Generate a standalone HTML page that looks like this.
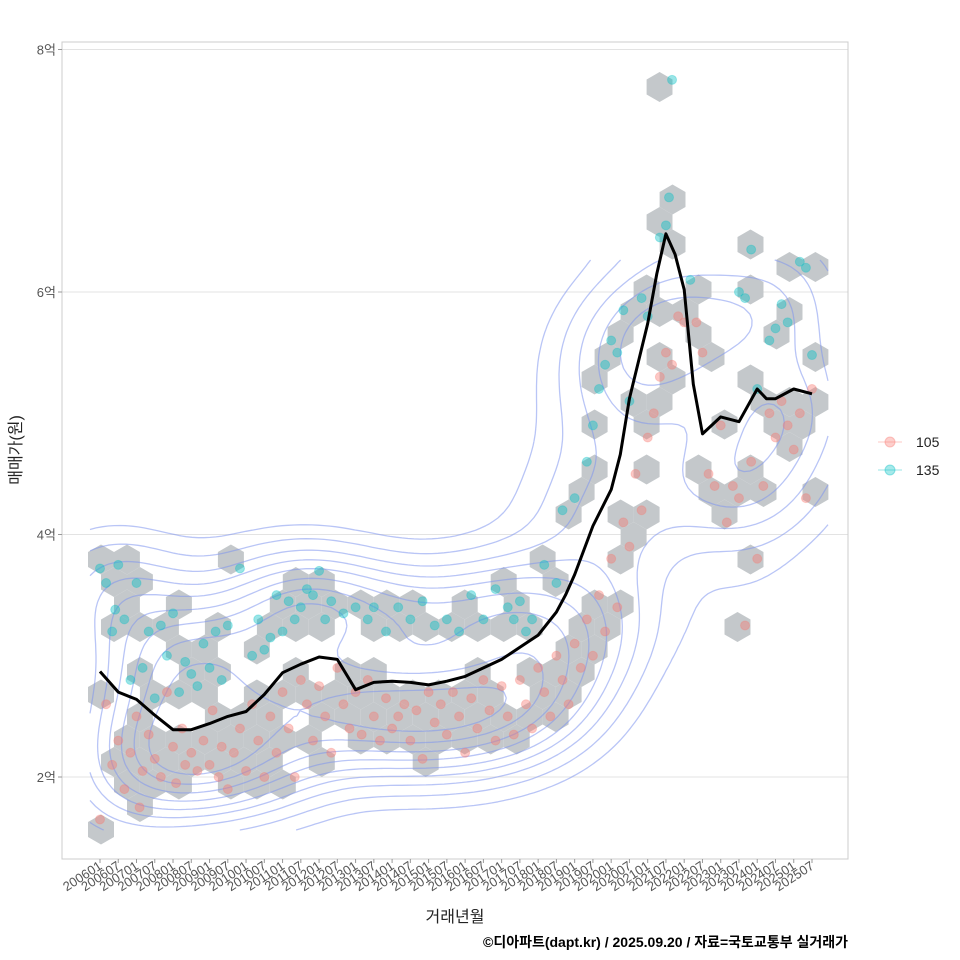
<!DOCTYPE html>
<html><head><meta charset="utf-8">
<style>
body{margin:0;background:#fff;}
svg{display:block;font-family:"Liberation Sans","Noto Sans CJK KR",sans-serif;}
</style></head>
<body>
<svg id="chart" width="960" height="960" viewBox="0 0 960 960">
<rect x="0" y="0" width="960" height="960" fill="#fff"/>
<g id="grid"></g>
<g id="hex"></g>
<g id="contour"></g>
<g id="pts"></g>
<g id="line"></g>
<rect x="62" y="42" width="786" height="817" fill="none" stroke="#cccccc" stroke-width="1"/>
<g id="axes"></g>
<text x="21" y="450" transform="rotate(-90 21 450)" text-anchor="middle" font-size="16" fill="#222">매매가(원)</text>
<text x="455" y="922" text-anchor="middle" font-size="16" fill="#222">거래년월</text>
<text x="848" y="947" text-anchor="end" font-size="14" font-weight="bold" fill="#000">©디아파트(dapt.kr) / 2025.09.20 / 자료=국토교통부 실거래가</text>
<g>
  <g>
    <line x1="878" y1="442" x2="902" y2="442" stroke="#F8766D" stroke-opacity="0.4" stroke-width="1"/>
    <circle cx="890" cy="442" r="5" fill="#F8766D" fill-opacity="0.35" stroke="#F8766D" stroke-opacity="0.4"/>
    <text x="916" y="447" font-size="14" fill="#222">105</text>
  </g>
  <g>
    <line x1="878" y1="470" x2="902" y2="470" stroke="#00BFC4" stroke-opacity="0.4" stroke-width="1"/>
    <circle cx="890" cy="470" r="5" fill="#00BFC4" fill-opacity="0.35" stroke="#00BFC4" stroke-opacity="0.4"/>
    <text x="916" y="475" font-size="14" fill="#222">135</text>
  </g>
</g>
</svg>
<script>
// ---- data (month index from 2006-01, price in 억) ----
const yTicks = [2, 4, 6, 8];
const yTickLabels = ["2억", "4억", "6억", "8억"];
const xTickLabels = ["200601","200607","200701","200707","200801","200807","200901","200907","201001","201007","201101","201107","201201","201207","201301","201307","201401","201407","201501","201507","201601","201607","201701","201707","201801","201807","201901","201907","202001","202007","202101","202107","202201","202207","202301","202307","202401","202407","202501","202507"];
const trendMonths = [0,6,12,18,24,30,36,42,48,54,60,66,72,78,84,90,96,102,108,114,120,126,132,138,144,150,153,156,162,168,171,174,180,183,186,189,192,195,198,204,210,216,219,222,228,234];
const trendValues = [2.87,2.70,2.64,2.51,2.39,2.39,2.44,2.50,2.54,2.68,2.86,2.93,2.99,2.97,2.72,2.78,2.79,2.78,2.76,2.79,2.83,2.90,2.97,3.07,3.17,3.36,3.50,3.67,4.07,4.37,4.66,5.12,5.74,6.15,6.48,6.31,6.02,5.24,4.83,4.97,4.93,5.20,5.12,5.12,5.20,5.16];
const pts105 = [[0,1.65],[2,2.6],[4,2.1],[6,2.3],[8,1.9],[10,2.2],[12,2.5],[13,1.75],[14,2.05],[16,2.35],[18,2.15],[20,2.0],[22,2.7],[24,2.25],[25,1.95],[27,2.4],[28,2.1],[30,2.2],[32,2.05],[34,2.3],[36,2.1],[37,2.55],[39,2.0],[40,2.25],[42,1.9],[44,2.2],[46,2.4],[48,2.05],[50,2.6],[52,2.3],[54,2.0],[56,2.5],[58,2.2],[60,2.7],[62,2.4],[64,2.0],[66,2.8],[68,2.6],[70,2.3],[72,2.75],[74,2.5],[76,2.2],[78,2.9],[80,2.6],[82,2.4],[84,2.7],[86,2.35],[88,2.8],[90,2.5],[92,2.3],[94,2.65],[96,2.4],[98,2.5],[100,2.6],[102,2.3],[104,2.55],[106,2.15],[108,2.7],[110,2.45],[112,2.6],[114,2.35],[116,2.7],[118,2.5],[120,2.2],[122,2.65],[124,2.4],[126,2.8],[128,2.55],[130,2.3],[132,2.75],[134,2.5],[136,2.35],[138,2.8],[140,2.6],[142,2.4],[144,2.9],[146,2.7],[148,2.5],[150,3.0],[152,2.8],[154,2.6],[156,3.1],[158,2.9],[160,3.3],[162,3.0],[164,3.5],[166,3.2],[168,3.8],[170,3.4],[172,4.1],[174,3.9],[176,4.5],[178,4.2],[180,4.8],[182,5.0],[184,5.3],[186,5.5],[188,5.4],[190,5.8],[192,5.75],[196,5.75],[198,5.5],[200,4.5],[202,4.4],[204,4.9],[206,4.1],[208,4.4],[210,4.3],[212,3.25],[214,4.6],[216,3.8],[218,4.4],[220,5.0],[222,4.8],[224,5.1],[226,4.9],[228,4.7],[230,5.0],[232,4.3],[234,5.2]];
const pts135 = [[0,3.72],[2,3.6],[4,3.2],[5,3.38],[6,3.75],[8,3.3],[10,2.8],[12,3.6],[14,2.9],[16,3.2],[18,2.65],[20,3.25],[22,3.0],[24,3.35],[26,2.7],[28,2.95],[30,2.85],[32,2.75],[34,3.1],[36,2.9],[38,3.2],[40,2.8],[42,3.25],[46,3.72],[50,3.0],[52,3.3],[54,3.05],[56,3.15],[58,3.5],[60,3.2],[62,3.45],[64,3.3],[66,3.4],[68,3.55],[70,3.5],[72,3.7],[74,3.3],[76,3.45],[80,3.35],[84,3.4],[88,3.3],[90,3.4],[94,3.2],[98,3.4],[102,3.3],[106,3.45],[110,3.25],[114,3.3],[118,3.2],[122,3.5],[126,3.3],[130,3.55],[134,3.4],[136,3.3],[138,3.45],[140,3.2],[142,3.3],[146,3.75],[150,3.6],[152,4.2],[156,4.3],[160,4.6],[162,4.9],[164,5.2],[166,5.4],[168,5.6],[170,5.5],[172,5.85],[174,5.1],[178,5.95],[180,5.8],[184,6.45],[186,6.55],[187,6.78],[188,7.75],[194,6.1],[210,6.0],[212,5.95],[214,6.35],[216,5.2],[220,5.6],[222,5.7],[224,5.9],[226,5.75],[230,6.25],[232,6.2],[234,5.48]];

// ---- scales ----
const NS = "http://www.w3.org/2000/svg";
function xs(m){ return 100 + m * (712/234); }
function ys(v){ return 777 - (v - 2) * 121.25; }
function mk(tag, attrs, parent){
  const e = document.createElementNS(NS, tag);
  for (const k in attrs) e.setAttribute(k, attrs[k]);
  parent.appendChild(e);
  return e;
}
const gGrid = document.getElementById('grid'), gAxes = document.getElementById('axes');
const gHex = document.getElementById('hex'), gCon = document.getElementById('contour');
const gPts = document.getElementById('pts'), gLine = document.getElementById('line');

yTicks.forEach((v,i)=>{
  const l = mk('line',{x1:62,x2:848,y1:ys(v),y2:ys(v),stroke:'#e3e3e3','stroke-width':1},gGrid);
  
  
  const t = mk('line',{x1:58,x2:62,y1:ys(v),y2:ys(v),stroke:'#999'},gAxes);
  
  
  const tx = mk('text',{x:56,y:ys(v)+5,'text-anchor':'end','font-size':13,fill:'#555'},gAxes);
  tx.textContent = yTickLabels[i];
  
  
});
xTickLabels.forEach((lab,i)=>{
  const x = xs(i*6);
  const t = mk('line',{x1:x,x2:x,y1:859,y2:863,stroke:'#999'},gAxes);
  
  
  const tx = mk('text',{x:x+3,y:868,'text-anchor':'end','font-size':13,fill:'#555',transform:`rotate(-33 ${x+3} 868)`},gAxes);
  tx.textContent = lab;
  
  
});

// hexbin
const all = pts105.concat(pts135).map(p=>[xs(p[0]), ys(p[1])]);
const R = 15, W = Math.sqrt(3)*R;
const bins = {};
all.forEach(([px,py])=>{
  const qx = (Math.sqrt(3)/3*(px-62) - (py-42)/3)/R, r = (2/3*(py-42))/R;
  let xq = qx, zq = r, yq = -xq-zq;
  let rx = Math.round(xq), ry = Math.round(yq), rz = Math.round(zq);
  const dx=Math.abs(rx-xq), dy=Math.abs(ry-yq), dz=Math.abs(rz-zq);
  if (dx>dy && dx>dz) rx=-ry-rz; else if (dy>dz) ry=-rx-rz; else rz=-rx-ry;
  bins[rx+','+rz] = (bins[rx+','+rz]||0)+1;
});
Object.keys(bins).forEach(k=>{
  const [q,r] = k.split(',').map(Number);
  const cx = 62 + W*(q + r/2), cy = 42 + 1.5*R*r;
  let d = '';
  for (let i=0;i<6;i++){ const a = Math.PI/180*(60*i-30); d += (i?'L':'M')+(cx+R*Math.cos(a)).toFixed(1)+','+(cy+R*Math.sin(a)).toFixed(1); }
  const h = mk('path',{d:d+'Z',fill: bins[k]>3 ? '#c9d3da' : '#c4c8cb'},gHex);
  
  
});

// density contours (KDE + marching squares)
const step = 6, gx0 = 90, gx1 = 830, gy0 = 260, gy1 = 830;
const nx = Math.floor((gx1-gx0)/step)+1, ny = Math.floor((gy1-gy0)/step)+1;
const bx = 50, by = 38;
const G = [];
let gmax = 0;
for (let j=0;j<ny;j++){ G.push([]); for (let i=0;i<nx;i++){
  const X = gx0+i*step, Y = gy0+j*step; let s=0;
  for (const [px,py] of all){ const u=(X-px)/bx, v=(Y-py)/by; s += Math.exp(-0.5*(u*u+v*v)); }
  G[j].push(s); if (s>gmax) gmax=s; } }
const levels = [0.1,0.18,0.27,0.36,0.45,0.55,0.65,0.75,0.85].map(f=>f*gmax);
levels.forEach(L=>{
  let d = '';
  const interp=(a,b,va,vb)=>a+(b-a)*((L-va)/(vb-va));
  for (let j=0;j<ny-1;j++) for (let i=0;i<nx-1;i++){
    const x0=gx0+i*step, y0=gy0+j*step, x1=x0+step, y1=y0+step;
    const a=G[j][i], b=G[j][i+1], c=G[j+1][i+1], e=G[j+1][i];
    const pts=[];
    if ((a>=L)!==(b>=L)) pts.push([interp(x0,x1,a,b),y0]);
    if ((b>=L)!==(c>=L)) pts.push([x1,interp(y0,y1,b,c)]);
    if ((e>=L)!==(c>=L)) pts.push([interp(x0,x1,e,c),y1]);
    if ((a>=L)!==(e>=L)) pts.push([x0,interp(y0,y1,a,e)]);
    for (let k=0;k+1<pts.length;k+=2) d += `M${pts[k][0].toFixed(1)},${pts[k][1].toFixed(1)}L${pts[k+1][0].toFixed(1)},${pts[k+1][1].toFixed(1)}`;
  }
  const p = mk('path',{d:d,fill:'none',stroke:'#7f95ee','stroke-opacity':0.55,'stroke-width':1.3},gCon);
  
  
});

function drawPts(arr,color,name){
  arr.forEach(p=>{
    const c = mk('circle',{cx:xs(p[0]),cy:ys(p[1]),r:4.5,fill:color,'fill-opacity':0.4,stroke:color,'stroke-opacity':0.3},gPts);
    
    
  });
}
drawPts(pts105,'#F8766D','point-105');
drawPts(pts135,'#00BFC4','point-135');

let ld = '';
trendMonths.forEach((m,i)=>{ ld += (i?'L':'M')+xs(m).toFixed(1)+','+ys(trendValues[i]).toFixed(1); });
const tl = mk('path',{d:ld,fill:'none',stroke:'#000','stroke-width':3,'stroke-linejoin':'round'},gLine);


</script>
</body></html>
